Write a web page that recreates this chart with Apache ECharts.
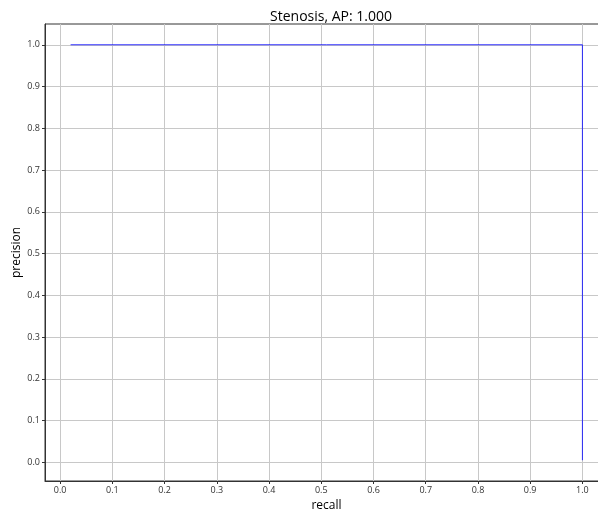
<!DOCTYPE html>
<html>
<head>
<meta charset="utf-8">
<title>Stenosis PR curve</title>
<script src="https://cdn.jsdelivr.net/npm/echarts@6/dist/echarts.min.js"></script>
<style>
  html, body { margin: 0; padding: 0; background: #fff; }
  #chart { width: 598px; height: 514px; }
</style>
</head>
<body>
<div id="chart"></div>
<script>
// Precision-recall curve points for the Stenosis class
const recall = [0.02, 1.0, 1.0];
const precision = [1.0, 1.0, 0.005];
const tickValues = [0, 0.1, 0.2, 0.3, 0.4, 0.5, 0.6, 0.7, 0.8, 0.9, 1.0];
const titleText = 'Stenosis, AP: 1.000';

const points = recall.map((r, i) => [r, precision[i]]);

// axis range padded by 5% of the data span on each side
function padded(values) {
  const lo = Math.min(...values), hi = Math.max(...values);
  const pad = (hi - lo) * 0.05;
  return [lo - pad, hi + pad];
}
const xr = padded(recall);
const yr = padded(precision);

const font = '"Open Sans", "Noto Sans", sans-serif';
const fmt = v => v.toFixed(1);

const chart = echarts.init(document.getElementById('chart'), null, { renderer: 'canvas' });
chart.setOption({
  animation: false,
  backgroundColor: '#ffffff',
  title: {
    text: titleText,
    left: 326,
    textAlign: 'center',
    top: 5,
    textStyle: { fontFamily: font, fontSize: 14, fontWeight: 'normal', color: '#000' }
  },
  grid: {
    left: 45, top: 24, width: 563, height: 457,
    outerBoundsMode: 'none',
    containLabel: false,
    show: true, borderColor: '#333', borderWidth: 1, backgroundColor: 'transparent'
  },
  xAxis: {
    type: 'value',
    min: xr[0], max: xr[1],
    name: 'recall',
    nameLocation: 'middle',
    nameGap: 19,
    nameMoveOverlap: false,
    nameTextStyle: { fontFamily: font, fontSize: 12, color: '#000' },
    axisLine: { show: true, onZero: false, lineStyle: { color: '#333', width: 1 } },
    axisTick: { show: true, length: 3, customValues: tickValues, lineStyle: { color: '#333' } },
    axisLabel: { customValues: tickValues, formatter: fmt, fontFamily: font, fontSize: 9, color: '#333', margin: 5 },
    splitLine: { show: true, lineStyle: { color: '#c8c8c8', width: 1 } }
  },
  yAxis: {
    type: 'value',
    min: yr[0], max: yr[1],
    name: 'precision',
    nameLocation: 'middle',
    nameGap: 22,
    nameMoveOverlap: false,
    nameTextStyle: { fontFamily: font, fontSize: 12, color: '#000' },
    axisLine: { show: true, onZero: false, lineStyle: { color: '#333', width: 1 } },
    axisTick: { show: true, length: 3, customValues: tickValues, lineStyle: { color: '#333' } },
    axisLabel: { customValues: tickValues, formatter: fmt, fontFamily: font, fontSize: 9, color: '#333', margin: 5 },
    splitLine: { show: true, lineStyle: { color: '#c8c8c8', width: 1 } }
  },
  series: [{
    type: 'line',
    data: points,
    showSymbol: false,
    symbol: 'none',
    lineStyle: { color: '#0000ff', width: 1, opacity: 0.8 },
    z: 5
  }]
});
</script>
</body>
</html>
